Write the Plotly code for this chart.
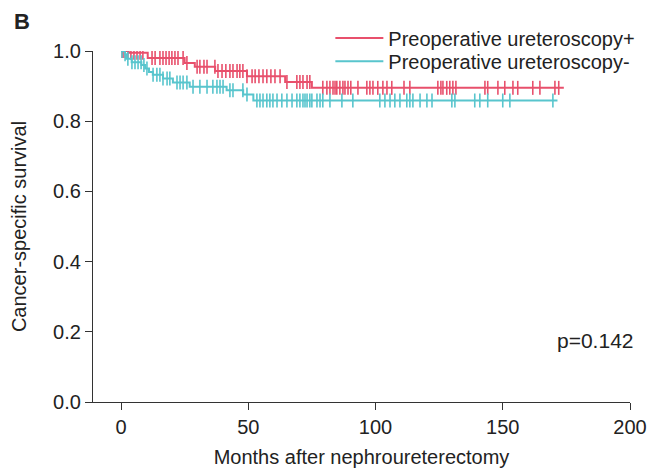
import numpy as np
import plotly.graph_objects as go

# Kaplan-Meier step curves (time in months, survival)
pos_times = [0, 3, 10.5, 25, 29, 37, 49.5, 64.5, 75, 174]
pos_surv = [1.0, 0.995, 0.980, 0.966, 0.955, 0.943, 0.928, 0.912, 0.895, 0.895]
pos_censor = [0.5, 0.8, 1.6, 2.7, 3.9, 5.1, 6.3, 7.5, 8.6,
              12.2, 13.4, 15.3, 16.5, 17.7, 18.9, 20.0, 21.2, 22.4, 24.4, 25.9,
              29.9, 31.0, 32.6, 33.8, 36.9, 38.1, 39.7, 41.2,
              42.8, 44.0, 45.6, 46.7, 47.9, 49.5,
              51.5, 52.7, 54.2, 55.8, 57.3, 58.9, 60.5, 62.5, 65.2, 69.1,
              70.3, 71.5, 73.1, 74.2,
              79.3, 80.9, 82.1, 83.3, 84.1, 84.8, 86.0, 87.2, 88.0, 89.2, 90.3, 93.1,
              96.6, 97.8, 99.0, 100.9, 102.9, 104.5, 106.4, 111.2, 113.5,
              124.5, 125.7, 126.5, 128.0, 129.2, 130.4, 131.6,
              143.0, 144.1, 148.1, 150.8, 154.0, 155.9, 161.8, 164.6, 170.5, 172.0]

neg_times = [0, 1.5, 2, 4.2, 8, 9.5, 11, 12.5, 16.5, 20.4, 27, 41.5, 48, 52, 171.5]
neg_surv = [1.0, 0.991, 0.978, 0.968, 0.960, 0.950, 0.940, 0.932, 0.922, 0.910,
            0.898, 0.888, 0.876, 0.859, 0.859]
neg_censor = [0.4, 1.6, 2.7, 4.3, 5.5, 6.7, 7.9, 9.0, 10.2,
              12.6, 14.1, 15.3, 16.5, 18.1, 19.2, 22.0, 23.2, 24.4, 25.9,
              28.3, 31.0, 33.8, 36.1, 37.7, 38.9, 40.1, 42.8, 44.0, 47.9, 49.5,
              53.4, 54.6, 55.8, 57.3, 58.5, 59.7, 61.3, 63.2, 65.2, 67.2, 69.1,
              70.3, 71.5, 72.3, 73.1, 74.2, 75.0, 77.0, 78.2, 79.3, 82.1, 86.8, 91.1,
              101.7, 103.7, 105.7, 107.6, 109.6, 112.3, 113.5, 114.7, 117.5, 120.2, 122.2,
              130.0, 131.2, 139.0, 141.0, 144.1, 150.0, 152.8, 169.7]

x_ticks = [0, 50, 100, 150, 200]
y_ticks = [0.0, 0.2, 0.4, 0.6, 0.8, 1.0]

RED = "#E8506C"
CYAN = "#58C5CD"
FONT = "Liberation Sans, Arial, sans-serif"
TXT = "#222222"


def surv_at(times, surv, t):
    idx = np.searchsorted(np.array(times), np.array(t), side="right") - 1
    return np.array(surv)[idx]


fig = go.Figure()
for name, times, surv, cens, col, lg in [
    ("Preoperative ureteroscopy+", pos_times, pos_surv, pos_censor, RED, "legend"),
    ("Preoperative ureteroscopy-", neg_times, neg_surv, neg_censor, CYAN, "legend2"),
]:
    fig.add_trace(go.Scatter(x=times, y=surv, mode="lines", name=name, legend=lg,
                             line=dict(color=col, width=2, shape="hv")))
    fig.add_trace(go.Scatter(x=cens, y=surv_at(times, surv, cens), mode="markers",
                             showlegend=False, hoverinfo="skip",
                             marker=dict(symbol="line-ns-open", size=10, color=col,
                                         line=dict(color=col, width=1.6))))

legend_common = dict(xanchor="left", yanchor="middle", bgcolor="rgba(0,0,0,0)",
                     font=dict(size=20, color=TXT), itemwidth=48,
                     borderwidth=0)

fig.update_layout(
    width=650, height=468,
    margin=dict(l=93, r=20, t=51, b=66, autoexpand=False),
    paper_bgcolor="white", plot_bgcolor="white",
    font=dict(family=FONT, size=20, color=TXT),
    showlegend=True,
    legend=dict(x=0.442, y=1.037, **legend_common),
    legend2=dict(x=0.442, y=0.971, **legend_common),
    xaxis=dict(range=[-11, 200], tickvals=x_ticks, ticks="outside", ticklen=7,
               showline=True, linecolor="#333", linewidth=1.2, showgrid=False,
               zeroline=False, tickcolor="#333", automargin=False,
               title=dict(text="Months after nephroureterectomy", standoff=20,
                          font=dict(size=20)),
               tickfont=dict(size=20)),
    yaxis=dict(range=[0, 1], tickvals=y_ticks, tickformat=".1f", ticks="outside",
               ticklen=7, showline=True, linecolor="#333", linewidth=1.2,
               showgrid=False, zeroline=False, tickcolor="#333", automargin=False,
               title=dict(text="Cancer-specific survival", standoff=21,
                          font=dict(size=20)),
               tickfont=dict(size=20)),
    annotations=[
        dict(text="<b>B</b>", xref="paper", yref="paper", x=-0.151, y=1.083,
             xanchor="left", yanchor="middle", showarrow=False,
             font=dict(size=22, color=TXT)),
        dict(text="p=0.142", xref="paper", yref="paper", x=0.935, y=0.1766,
             xanchor="center", yanchor="middle", showarrow=False,
             font=dict(size=21, color=TXT)),
    ],
)

fig.write_html("out.html", config={"displayModeBar": False},
               post_script="document.body.style.margin='0';"
                           "document.body.style.overflow='hidden';")
